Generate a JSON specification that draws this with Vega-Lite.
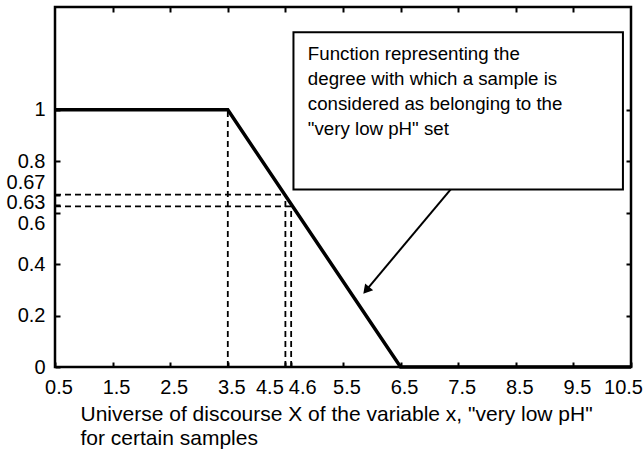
{
  "$schema": "https://vega.github.io/schema/vega-lite/v6.json",
  "width": 576,
  "height": 360,
  "autosize": {"type": "none"},
  "padding": {"left": 55, "top": 7, "right": 12, "bottom": 87},
  "background": "white",
  "config": {
    "view": {"stroke": "black", "strokeWidth": 2.5},
    "font": "Liberation Sans",
    "axis": {
      "grid": false,
      "domain": false,
      "labelFont": "Liberation Sans",
      "labelFontSize": 20,
      "labelColor": "black",
      "tickColor": "black",
      "tickWidth": 2,
      "tickSize": -5,
      "titleFont": "Liberation Sans",
      "titleFontSize": 21,
      "titleFontWeight": "normal",
      "titleColor": "black",
      "labelOverlap": false,
      "labelFlush": false
    }
  },
  "encoding": {
    "x": {"field": "x", "type": "quantitative", "scale": {"domain": [0.5, 10.5], "nice": false, "zero": false}, "axis": null},
    "y": {"field": "y", "type": "quantitative", "scale": {"domain": [0, 1.4], "nice": false, "zero": false}, "axis": null}
  },
  "layer": [
    {
      "data": {"values": [
        {"x": 0.5, "y": 1},
        {"x": 3.5, "y": 1},
        {"x": 6.5, "y": 0},
        {"x": 10.5, "y": 0}
      ]},
      "mark": {"type": "line", "color": "black", "strokeWidth": 3.5},
      "encoding": {
        "x": {
          "field": "x", "type": "quantitative",
          "scale": {"domain": [0.5, 10.5], "nice": false, "zero": false},
          "axis": {
            "orient": "bottom",
            "values": [0.5, 1.5, 2.5, 3.5, 4.5, 4.6, 5.5, 6.5, 7.5, 8.5, 9.5, 10.5],
            "format": ".1~f",
            "labelPadding": 15,
            "labelOffset": {"condition": [{"test": "datum.value == 4.5", "value": -16}, {"test": "datum.value == 4.6", "value": 11}, {"test": "datum.value == 10.5", "value": -8}], "value": 3.5},
            "title": ["Universe of discourse X of the variable x,  \"very low pH\"", "for certain samples"],
            "titleAlign": "left",
            "titleAnchor": "start",
            "titleX": 25,
            "titleY": 53,
            "titleBaseline": "alphabetic",
            "titleLineHeight": 24
          }
        },
        "y": {
          "field": "y", "type": "quantitative",
          "scale": {"domain": [0, 1.4], "nice": false, "zero": false},
          "axis": {
            "orient": "left",
            "values": [0, 0.2, 0.4, 0.6, 0.63, 0.67, 0.8, 1],
            "format": ".2~f",
            "labelPadding": 15,
            "labelOffset": {"condition": [{"test": "datum.value == 0.67", "value": -12}, {"test": "datum.value == 0.63", "value": -3}, {"test": "datum.value == 0.6", "value": 11}], "value": 0},
            "title": null
          }
        }
      }
    },
    {
      "data": {"values": [
        {"x": 3.5, "y": 0, "x2": 3.5, "y2": 1},
        {"x": 0.5, "y": 0.67, "x2": 4.5, "y2": 0.67},
        {"x": 0.5, "y": 0.625, "x2": 4.6, "y2": 0.625},
        {"x": 4.5, "y": 0, "x2": 4.5, "y2": 0.67},
        {"x": 4.6, "y": 0, "x2": 4.6, "y2": 0.625}
      ]},
      "mark": {"type": "rule", "color": "black", "strokeWidth": 1.8, "strokeDash": [6, 4]},
      "encoding": {
        "x": {
          "field": "x", "type": "quantitative",
          "scale": {"domain": [0.5, 10.5], "nice": false, "zero": false},
          "axis": {"orient": "top", "values": [1.5, 2.5, 3.5, 4.5, 5.5, 6.5, 7.5, 8.5, 9.5], "labels": false, "title": null}
        },
        "y": {
          "field": "y", "type": "quantitative",
          "scale": {"domain": [0, 1.4], "nice": false, "zero": false},
          "axis": {"orient": "right", "values": [0.2, 0.4, 0.6, 0.8, 1], "labels": false, "title": null}
        },
        "x2": {"field": "x2"},
        "y2": {"field": "y2"}
      }
    },
    {
      "data": {"values": [{"x": 4.64, "x2": 10.36, "y": 1.302, "y2": 0.69}]},
      "mark": {"type": "rect", "fill": "white", "stroke": "black", "strokeWidth": 2},
      "encoding": {"x2": {"field": "x2"}, "y2": {"field": "y2"}}
    },
    {
      "data": {"values": [{"x": 4.89, "y": 1.195, "label": "Function representing the\ndegree with which a sample is\nconsidered as belonging to the\n\"very low pH\" set"}]},
      "mark": {"type": "text", "align": "left", "baseline": "alphabetic", "lineBreak": "\n", "lineHeight": 25, "font": "Liberation Sans", "fontSize": 18.7, "color": "black"},
      "encoding": {"text": {"field": "label"}}
    },
    {
      "data": {"values": [{"x": 7.37, "y": 0.691, "x2": 5.93, "y2": 0.306}]},
      "mark": {"type": "rule", "color": "black", "strokeWidth": 2},
      "encoding": {"x2": {"field": "x2"}, "y2": {"field": "y2"}}
    },
    {
      "data": {"values": [{"x": 5.92, "y": 0.303}]},
      "mark": {"type": "point", "shape": "triangle", "filled": true, "color": "black", "opacity": 1, "size": 110, "angle": 220}
    }
  ]
}
